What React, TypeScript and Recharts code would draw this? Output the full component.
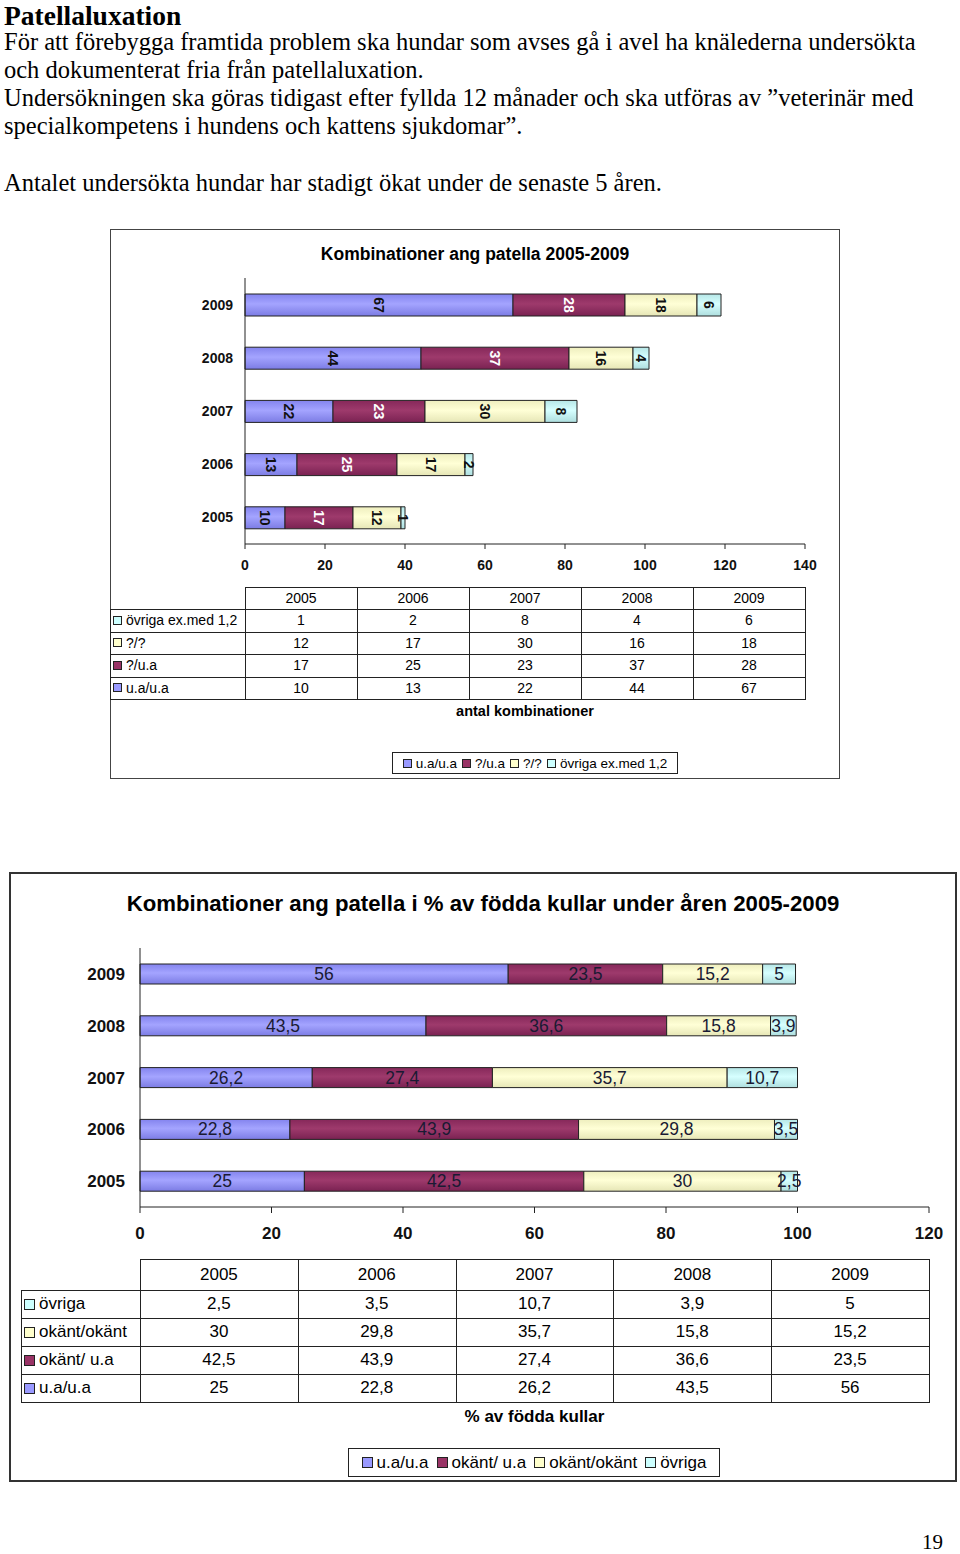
import React from 'react';
import { BarChart, Bar, XAxis, YAxis, LabelList } from 'recharts';

const years = ['2005', '2006', '2007', '2008', '2009'];

// Chart 1: antal kombinationer
const countNames = ['u.a/u.a', '?/u.a', '?/?', 'övriga ex.med 1,2'];
const countUaUa = [10, 13, 22, 44, 67];
const countQUa = [17, 25, 23, 37, 28];
const countQQ = [12, 17, 30, 16, 18];
const countOvriga = [1, 2, 8, 4, 6];
const countTicks = [0, 20, 40, 60, 80, 100, 120, 140];

// Chart 2: % av födda kullar
const pctNames = ['u.a/u.a', 'okänt/ u.a', 'okänt/okänt', 'övriga'];
const pctUaUa = [25, 22.8, 26.2, 43.5, 56];
const pctOkantUa = [42.5, 43.9, 27.4, 36.6, 23.5];
const pctOkantOkant = [30, 29.8, 35.7, 15.8, 15.2];
const pctOvriga = [2.5, 3.5, 10.7, 3.9, 5];
const pctTicks = [0, 20, 40, 60, 80, 100, 120];

const colors = ['#9999FF', '#993366', '#FFFFCC', '#CCFFFF'];
const gradIds = ['gBlue', 'gRed', 'gYel', 'gCya'];
const gradStops = [
  ['#8484EE', '#A4A4FF', '#7C7CE4'],
  ['#86285A', '#9E3A6C', '#7A2252'],
  ['#EEEEBE', '#FFFFD6', '#E6E6B6'],
  ['#B6E6E6', '#D6FFFF', '#AEDEDE'],
];

const SANS = '"Liberation Sans", Arial, sans-serif';
const SERIF = '"Liberation Serif", "Times New Roman", serif';

const keys = ['s0', 's1', 's2', 's3'];
const countSeries = [countUaUa, countQUa, countQQ, countOvriga];
const pctSeries = [pctUaUa, pctOkantUa, pctOkantOkant, pctOvriga];

const countData = years.map((y, i) => ({
  year: y,
  s0: countUaUa[i],
  s1: countQUa[i],
  s2: countQQ[i],
  s3: countOvriga[i],
}));
const pctData = years.map((y, i) => ({
  year: y,
  s0: pctUaUa[i],
  s1: pctOkantUa[i],
  s2: pctOkantOkant[i],
  s3: pctOvriga[i],
}));

const fmt = (v: number) => String(v).replace('.', ',');

function Gradients() {
  return (
    <defs>
      {gradIds.map((id, i) => (
        <linearGradient key={id} id={id} x1="0" y1="0" x2="0" y2="1">
          <stop offset="0%" stopColor={gradStops[i][0]} />
          <stop offset="45%" stopColor={gradStops[i][1]} />
          <stop offset="100%" stopColor={gradStops[i][2]} />
        </linearGradient>
      ))}
    </defs>
  );
}

const rotLabel = (seriesIdx: number) => (props: any) => {
  const { x, y, width, height, value } = props;
  const cx = x + width / 2;
  const cy = y + height / 2;
  return (
    <text
      x={cx}
      y={cy}
      transform={`rotate(90, ${cx}, ${cy})`}
      textAnchor="middle"
      dominantBaseline="central"
      fontFamily={SANS}
      fontWeight="bold"
      fontSize={14}
      fill={seriesIdx === 1 ? '#FFFFFF' : '#111111'}
    >
      {value}
    </text>
  );
};

const flatLabel = (props: any) => {
  const { x, y, width, height, value } = props;
  return (
    <text
      x={x + width / 2}
      y={y + height / 2}
      textAnchor="middle"
      dominantBaseline="central"
      fontFamily={SANS}
      fontSize={17.5}
      fill="#1a1a33"
    >
      {fmt(value)}
    </text>
  );
};

function Line({ x, y, w, h, c = '#222' }: any) {
  return <div style={{ position: 'absolute', left: x, top: y, width: w, height: h, background: c }} />;
}

function Swatch({ color, size }: any) {
  return (
    <span
      style={{
        display: 'inline-block',
        width: size,
        height: size,
        background: color,
        border: '1px solid #222',
        marginRight: 4,
        boxSizing: 'border-box',
        flex: 'none',
      }}
    />
  );
}

function DataTable({ labelLeft, colStart, colW, top, headerH, rowH, fontSize, names, series, swatch }: any) {
  const n = years.length;
  const right = colStart + colW * n;
  const order = [3, 2, 1, 0];
  const bodyTop = top + headerH;
  const bottom = bodyTop + rowH * order.length;
  const els: any[] = [];
  els.push(<Line key="ht" x={colStart} y={top} w={right - colStart + 1} h={1} />);
  for (let i = 0; i <= order.length; i++) {
    els.push(<Line key={'h' + i} x={labelLeft} y={bodyTop + i * rowH} w={right - labelLeft + 1} h={1} />);
  }
  for (let j = 0; j <= n; j++) {
    els.push(<Line key={'v' + j} x={colStart + j * colW} y={top} w={1} h={bottom - top + 1} />);
  }
  els.push(<Line key="vl" x={labelLeft} y={bodyTop} w={1} h={bottom - bodyTop + 1} />);
  years.forEach((yr, j) => {
    els.push(
      <div
        key={'hd' + j}
        style={{
          position: 'absolute', left: colStart + j * colW, top, width: colW, height: headerH,
          display: 'flex', alignItems: 'center', justifyContent: 'center', fontSize, fontFamily: SANS,
        }}
      >
        {yr}
      </div>
    );
  });
  order.forEach((s, r) => {
    const y = bodyTop + r * rowH;
    els.push(
      <div
        key={'rl' + r}
        style={{
          position: 'absolute', left: labelLeft + 3, top: y, width: colStart - labelLeft - 3, height: rowH,
          display: 'flex', alignItems: 'center', fontSize, fontFamily: SANS, whiteSpace: 'nowrap',
        }}
      >
        <Swatch color={colors[s]} size={swatch} />
        {names[s]}
      </div>
    );
    series[s].forEach((v: number, j: number) => {
      els.push(
        <div
          key={'c' + r + '_' + j}
          style={{
            position: 'absolute', left: colStart + j * colW, top: y, width: colW, height: rowH,
            display: 'flex', alignItems: 'center', justifyContent: 'center', fontSize, fontFamily: SANS,
          }}
        >
          {fmt(v)}
        </div>
      );
    });
  });
  return <>{els}</>;
}

function LegendBox({ left, top, width, height, names, fontSize, swatch, gap }: any) {
  return (
    <div
      style={{
        position: 'absolute', left, top, width, height, border: '1px solid #222', boxSizing: 'border-box',
        display: 'flex', alignItems: 'center', justifyContent: 'center', fontFamily: SANS, fontSize,
        whiteSpace: 'nowrap', background: '#fff',
      }}
    >
      {names.map((nm: string, i: number) => (
        <span key={nm} style={{ display: 'flex', alignItems: 'center', marginRight: i < names.length - 1 ? gap : 0 }}>
          <Swatch color={colors[i]} size={swatch} />
          {nm}
        </span>
      ))}
    </div>
  );
}

const textLines = [
  { t: 'För att förebygga framtida problem ska hundar som avses gå i avel ha knälederna undersökta', y: 28 },
  { t: 'och dokumenterat fria från patellaluxation.', y: 56 },
  { t: 'Undersökningen ska göras tidigast efter fyllda 12 månader och ska utföras av ”veterinär med', y: 84 },
  { t: 'specialkompetens i hundens och kattens sjukdomar”.', y: 112 },
  { t: 'Antalet undersökta hundar har stadigt ökat under de senaste 5 åren.', y: 169 },
];

export default function App() {
  return (
    <div style={{ position: 'absolute', left: 0, top: 0, width: 960, height: 1554, background: '#fff', overflow: 'hidden' }}>
      <div style={{ position: 'absolute', left: 4, top: 0, fontFamily: SERIF, fontWeight: 'bold', fontSize: 27.5, lineHeight: 'normal', whiteSpace: 'nowrap' }}>
        Patellaluxation
      </div>
      {textLines.map((l) => (
        <div key={l.t} style={{ position: 'absolute', left: 4, top: l.y, fontFamily: SERIF, fontSize: 24.5, lineHeight: '28px', whiteSpace: 'nowrap' }}>
          {l.t}
        </div>
      ))}

      {/* Chart 1 */}
      <div style={{ position: 'absolute', left: 110, top: 229, width: 730, height: 550, border: '1.5px solid #444', boxSizing: 'border-box' }} />
      <div style={{ position: 'absolute', left: 110, top: 244, width: 730, textAlign: 'center', fontFamily: SANS, fontWeight: 'bold', fontSize: 17.5 }}>
        Kombinationer ang patella 2005-2009
      </div>
      <div style={{ position: 'absolute', left: 110, top: 229 }}>
        <BarChart
          width={730}
          height={350}
          data={countData}
          layout="vertical"
          margin={{ top: 49, right: 35, bottom: 5, left: 0 }}
          barSize={22}
        >
          <Gradients />
          <XAxis
            type="number"
            domain={[0, 140]}
            ticks={countTicks}
            interval={0}
            height={30}
            tickSize={5}
            tickMargin={11}
            stroke="#222"
            tick={{ fill: '#111', fontFamily: SANS, fontWeight: 'bold', fontSize: 14 }}
          />
          <YAxis
            type="category"
            dataKey="year"
            reversed
            width={135}
            tickLine={false}
            tickMargin={6}
            stroke="#222"
            tick={{ fill: '#111', fontFamily: SANS, fontWeight: 'bold', fontSize: 14 }}
          />
          {keys.map((k, i) => (
            <Bar key={k} dataKey={k} name={countNames[i]} stackId="a" fill={`url(#${gradIds[i]})`} stroke="#222" strokeWidth={1} isAnimationActive={false}>
              <LabelList dataKey={k} content={rotLabel(i)} />
            </Bar>
          ))}
        </BarChart>
      </div>
      <DataTable
        labelLeft={110}
        colStart={245}
        colW={112}
        top={587}
        headerH={22}
        rowH={22.5}
        fontSize={14}
        names={countNames}
        series={countSeries}
        swatch={9}
      />
      <div style={{ position: 'absolute', left: 245, top: 703, width: 560, textAlign: 'center', fontFamily: SANS, fontWeight: 'bold', fontSize: 14.5 }}>
        antal kombinationer
      </div>
      <LegendBox left={392} top={752} width={286} height={22} names={countNames} fontSize={13.5} swatch={9} gap={5} />

      {/* Chart 2 */}
      <div style={{ position: 'absolute', left: 9, top: 872, width: 948, height: 610, border: '2px solid #333', boxSizing: 'border-box' }} />
      <div style={{ position: 'absolute', left: 9, top: 891, width: 948, textAlign: 'center', fontFamily: SANS, fontWeight: 'bold', fontSize: 22.2 }}>
        Kombinationer ang patella i % av födda kullar under åren 2005-2009
      </div>
      <div style={{ position: 'absolute', left: 9, top: 872 }}>
        <BarChart
          width={948}
          height={380}
          data={pctData}
          layout="vertical"
          margin={{ top: 76, right: 28, bottom: 5, left: 0 }}
          barSize={20}
        >
          <Gradients />
          <XAxis
            type="number"
            domain={[0, 120]}
            ticks={pctTicks}
            interval={0}
            height={40}
            tickSize={6}
            tickMargin={14}
            stroke="#222"
            tick={{ fill: '#111', fontFamily: SANS, fontWeight: 'bold', fontSize: 17 }}
          />
          <YAxis
            type="category"
            dataKey="year"
            reversed
            width={131}
            tickLine={false}
            tickMargin={9}
            stroke="#222"
            tick={{ fill: '#111', fontFamily: SANS, fontWeight: 'bold', fontSize: 17 }}
          />
          {keys.map((k, i) => (
            <Bar key={k} dataKey={k} name={pctNames[i]} stackId="a" fill={`url(#${gradIds[i]})`} stroke="#222" strokeWidth={1} isAnimationActive={false}>
              <LabelList dataKey={k} content={flatLabel} />
            </Bar>
          ))}
        </BarChart>
      </div>
      <DataTable
        labelLeft={21}
        colStart={140}
        colW={157.8}
        top={1259}
        headerH={31}
        rowH={28}
        fontSize={17}
        names={pctNames}
        series={pctSeries}
        swatch={11}
      />
      <div style={{ position: 'absolute', left: 140, top: 1407, width: 789, textAlign: 'center', fontFamily: SANS, fontWeight: 'bold', fontSize: 17 }}>
        % av födda kullar
      </div>
      <LegendBox left={348} top={1448} width={372} height={29} names={pctNames} fontSize={17} swatch={11} gap={8} />

      <div style={{ position: 'absolute', left: 922, top: 1530, fontFamily: SERIF, fontSize: 21 }}>19</div>
    </div>
  );
}
